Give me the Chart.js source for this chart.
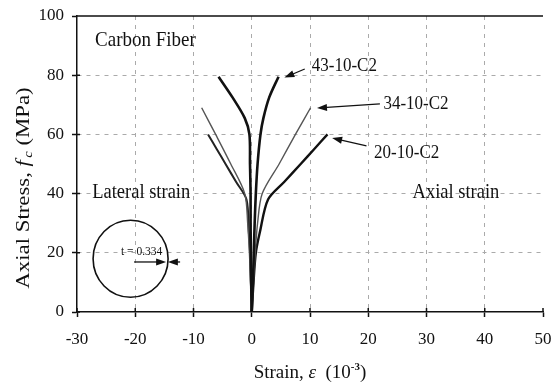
<!DOCTYPE html>
<html>
<head>
<meta charset="utf-8">
<script src="https://cdn.jsdelivr.net/npm/chart.js@4"></script>
<style>
  html, body { margin: 0; padding: 0; background: #fff; }
  #wrap { width: 552px; height: 387px; }
</style>
</head>
<body>
<div id="wrap"><canvas id="stressChart"></canvas></div>
<script>
// Axis ticks
const xTicks = [-30, -20, -10, 0, 10, 20, 30, 40, 50];
const yTicks = [0, 20, 40, 60, 80, 100];

// Specimen 43-10-C2
const stress43 = [0, 10, 20, 30, 40, 50, 60, 65.5, 72.5, 79.5];
const axial43 = [0, 0.2, 0.35, 0.5, 0.7, 1.0, 1.5, 2.0, 3.0, 4.6];
const lateral43 = [0, -0.1, -0.15, -0.2, -0.2, -0.3, -0.4, -1.2, -3.3, -5.7];

// Specimen 34-10-C2
const stress34 = [0, 10, 20, 30, 40, 50, 60, 69];
const axial34 = [0, 0.3, 0.6, 1.0, 1.8, 4.7, 7.5, 10.1];
const lateral34 = [0, -0.2, -0.4, -0.7, -1.2, -3.6, -6.2, -8.6];

// Specimen 20-10-C2
const stress20 = [0, 10, 20, 27, 38, 44, 50, 55, 60];
const axial20 = [0, 0.3, 0.7, 1.4, 2.8, 5.6, 8.4, 10.7, 13.0];
const lateral20 = [0, -0.15, -0.3, -0.5, -0.9, -2.7, -4.5, -6.0, -7.5];

function pts(xs, ys) {
  return xs.map((x, i) => ({ x: x, y: ys[i] }));
}

const serif = "'Liberation Serif', 'DejaVu Serif', serif";

function curve(label, xs, ys, color, width) {
  return {
    label: label,
    data: pts(xs, ys),
    borderColor: color,
    borderWidth: width,
    pointRadius: 0,
    tension: 0.3,
    fill: false
  };
}

// Arrow with filled head
function arrow(ctx, ax, ay, bx, by) {
  const ang = Math.atan2(by - ay, bx - ax);
  ctx.beginPath();
  ctx.moveTo(ax, ay);
  ctx.lineTo(bx - 6 * Math.cos(ang), by - 6 * Math.sin(ang));
  ctx.stroke();
  ctx.beginPath();
  ctx.moveTo(bx, by);
  ctx.lineTo(bx - 10 * Math.cos(ang) + 3.5 * Math.sin(ang), by - 10 * Math.sin(ang) - 3.5 * Math.cos(ang));
  ctx.lineTo(bx - 10 * Math.cos(ang) - 3.5 * Math.sin(ang), by - 10 * Math.sin(ang) + 3.5 * Math.cos(ang));
  ctx.closePath();
  ctx.fill();
}

// text a bit taller than wide, like the scanned figure
function tallText(ctx, txt, x, y, size) {
  ctx.save();
  ctx.translate(x, y);
  ctx.scale(1, 1.12);
  ctx.font = size + "px " + serif;
  ctx.fillText(txt, 0, 0);
  ctx.restore();
}

// Labels, arrows, the section sketch and axis titles
const extras = {
  id: "extras",
  afterDatasetsDraw(chart) {
    const ctx = chart.ctx;
    const sx = chart.scales.x, sy = chart.scales.y;
    const X = (v) => sx.getPixelForValue(v);
    const Y = (v) => sy.getPixelForValue(v);
    const area = chart.chartArea;
    ctx.save();
    ctx.fillStyle = "#111";
    ctx.strokeStyle = "#111";
    ctx.lineWidth = 1.5;

    // top border and inner tick marks
    ctx.beginPath();
    ctx.moveTo(area.left, area.top);
    ctx.lineTo(area.right, area.top);
    xTicks.forEach(v => { ctx.moveTo(X(v), area.bottom); ctx.lineTo(X(v), area.bottom - 4); });
    yTicks.forEach(v => { ctx.moveTo(area.left, Y(v)); ctx.lineTo(area.left + 3, Y(v)); });
    ctx.stroke();

    ctx.textBaseline = "middle";
    ctx.textAlign = "left";
    tallText(ctx, "Carbon Fiber", X(-26.9), Y(91.9), 19);
    tallText(ctx, "Lateral strain", X(-27.4), Y(40.3), 18.5);
    tallText(ctx, "Axial strain", X(27.6), Y(40.3), 18.5);

    tallText(ctx, "43-10-C2", X(10.3), Y(83.1), 17);
    tallText(ctx, "34-10-C2", X(22.6), Y(70.3), 17);
    tallText(ctx, "20-10-C2", X(21.0), Y(53.7), 17);

    ctx.lineWidth = 1.2;
    arrow(ctx, X(9.1), Y(82.1), X(5.6), Y(79.2));
    arrow(ctx, X(22.0), Y(70.3), X(11.2), Y(68.9));
    arrow(ctx, X(19.7), Y(56.1), X(13.8), Y(58.8));

    // section sketch
    const cx = X(-20.8), cy = Y(18.0);
    ctx.lineWidth = 1.6;
    ctx.beginPath();
    ctx.ellipse(cx, cy, 37.5, 38.5, 0, 0, Math.PI * 2);
    ctx.stroke();
    ctx.textAlign = "center";
    tallText(ctx, "t = 0.334", X(-18.9), Y(20.3), 11.5);
    ctx.lineWidth = 1.3;
    arrow(ctx, X(-20.2), Y(16.9), X(-14.7), Y(16.9));
    arrow(ctx, X(-12.3), Y(16.9), X(-14.4), Y(16.9));

    // x axis title
    ctx.textAlign = "left";
    ctx.textBaseline = "alphabetic";
    const parts = [
      ["Strain, ", "19px ", 0],
      ["\u03b5", "italic 19px ", 0],
      ["  (10", "19px ", 0],
      ["-3", "bold 11px ", -8],
      [")", "19px ", 0]
    ];
    let total = 0;
    parts.forEach(p => { ctx.font = p[1] + serif; total += ctx.measureText(p[0]).width; });
    let px = (area.left + area.right) / 2 - total / 2;
    parts.forEach(p => {
      ctx.font = p[1] + serif;
      ctx.fillText(p[0], px, 378 + p[2]);
      px += ctx.measureText(p[0]).width;
    });

    // y axis title
    ctx.save();
    ctx.translate(29, 188);
    ctx.rotate(-Math.PI / 2);
    ctx.scale(1.2, 1);
    const yparts = [
      ["Axial Stress, ", "19px ", 0],
      ["f", "italic 19px ", 0],
      ["c", "italic 12px ", 3],
      [" (MPa)", "19px ", 0]
    ];
    let ytotal = 0;
    yparts.forEach(p => { ctx.font = p[1] + serif; ytotal += ctx.measureText(p[0]).width + (p[0] === "f" ? 2 : 0); });
    let qx = -ytotal / 2;
    yparts.forEach(p => {
      ctx.font = p[1] + serif;
      ctx.fillText(p[0], qx, p[2]);
      qx += ctx.measureText(p[0]).width + (p[0] === "f" ? 2 : 0);
    });
    ctx.restore();

    ctx.restore();
  }
};

new Chart(document.getElementById("stressChart").getContext("2d"), {
  type: "line",
  data: {
    datasets: [
      curve("43-10-C2 axial", axial43, stress43, "#111", 2.6),
      curve("43-10-C2 lateral", lateral43, stress43, "#111", 2.6),
      curve("34-10-C2 axial", axial34, stress34, "#555", 1.4),
      curve("34-10-C2 lateral", lateral34, stress34, "#555", 1.4),
      curve("20-10-C2 axial", axial20, stress20, "#111", 2.4),
      curve("20-10-C2 lateral", lateral20, stress20, "#222", 2.0)
    ]
  },
  options: {
    responsive: true,
    maintainAspectRatio: false,
    animation: false,
    layout: { padding: { top: 16, right: 9, left: 0, bottom: 0 } },
    plugins: {
      legend: { display: false },
      tooltip: { enabled: false }
    },
    scales: {
      x: {
        type: "linear",
        min: -30,
        max: 50,
        afterBuildTicks: (scale) => { scale.ticks = xTicks.map(v => ({ value: v })); },
        afterFit: (scale) => { scale.height = 75; scale.paddingLeft = 0; scale.paddingRight = 0; },
        ticks: {
          color: "#111",
          font: { family: serif, size: 17 },
          padding: 12
        },
        grid: {
          color: (c) => (c.tick && (c.tick.value === -30 || c.tick.value === 50)) ? "rgba(0,0,0,0)" : "#aaa",
          lineWidth: 1,
          tickColor: "#111",
          tickLength: 5,
          tickWidth: 1.5
        },
        border: { display: true, color: "#111", width: 1.5, dash: [4, 5] }
      },
      y: {
        type: "linear",
        min: 0,
        max: 100,
        afterBuildTicks: (scale) => { scale.ticks = yTicks.map(v => ({ value: v })); },
        afterFit: (scale) => { scale.width = 77; scale.paddingTop = 0; scale.paddingBottom = 0; },
        ticks: {
          color: "#111",
          font: { family: serif, size: 17 },
          padding: 8
        },
        grid: {
          color: (c) => (c.tick && (c.tick.value === 0 || c.tick.value === 100)) ? "rgba(0,0,0,0)" : "#aaa",
          lineWidth: 1,
          tickColor: "#111",
          tickLength: 5,
          tickWidth: 1.5
        },
        border: { display: true, color: "#111", width: 1.5, dash: [4, 5] }
      }
    }
  },
  plugins: [extras]
});
</script>
</body>
</html>
